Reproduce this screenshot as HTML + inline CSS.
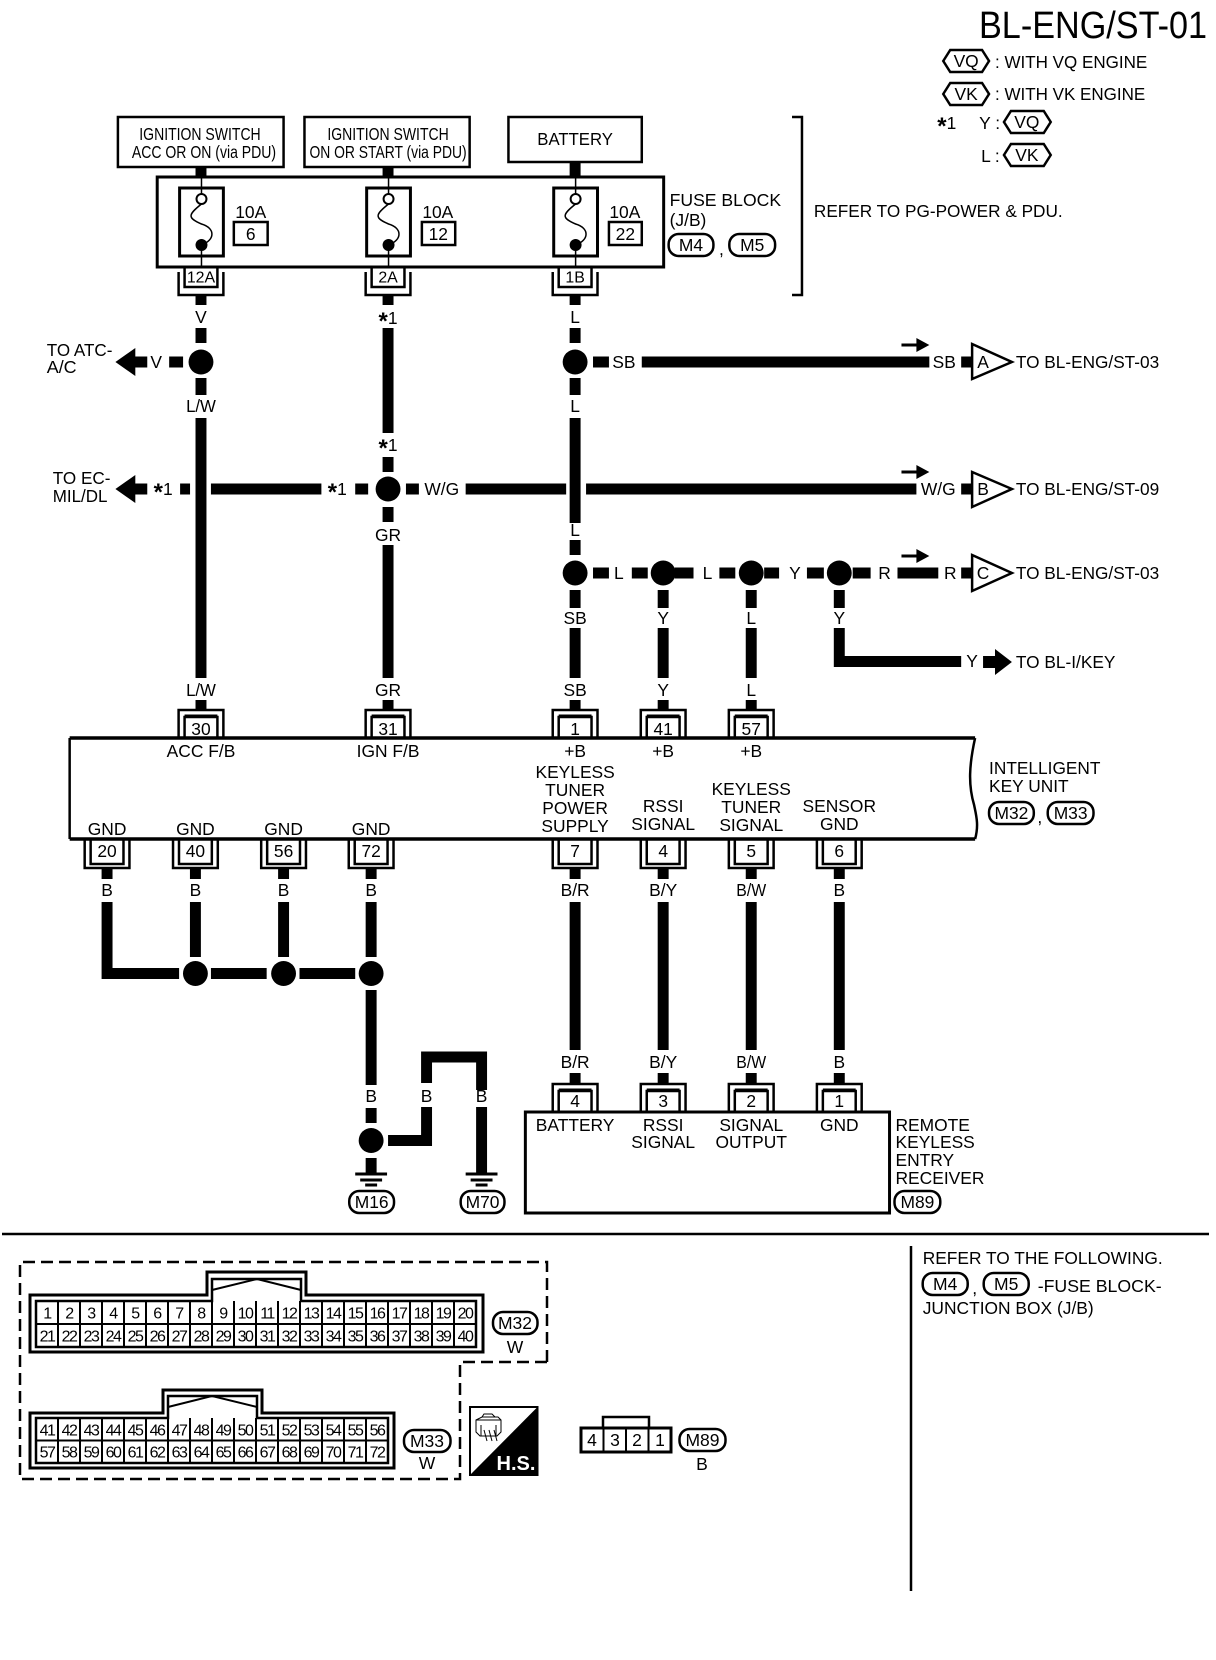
<!DOCTYPE html>
<html><head><meta charset="utf-8"><style>
html,body{margin:0;padding:0;background:#fff;width:1216px;height:1660px;overflow:hidden}
svg{display:block}
text{font-family:"Liberation Sans",sans-serif;font-size:17.5px;fill:#000;text-anchor:middle;dominant-baseline:central}
.l{text-anchor:start}
.c{font-size:16px;letter-spacing:-1.5px;transform:translateY(1px)}
.a{font-weight:bold;font-size:24px}
.w{fill:none;stroke:#000;stroke-width:11}
.t{fill:none;stroke:#000;stroke-width:2.5}
.n{fill:none;stroke:#000;stroke-width:1.5}
.o{fill:#fff;stroke:#000;stroke-width:2.5}
</style></head><body>
<svg width="1216" height="1660" viewBox="0 0 1216 1660" xmlns="http://www.w3.org/2000/svg">
<defs>
<g id="ct"><path class="t" d="M-22.5 28V0H22.5V28"/><path class="t" d="M-16.5 28V7H16.5V28"/><path d="M-16.5 6H16.5" stroke="#000" stroke-width="3"/></g>
<g id="cb"><path class="t" d="M-22.5 0V29H22.5V0"/><path class="t" d="M-16.5 0V25H16.5V0"/></g>
<g id="gn"><path d="M-16 0H16" stroke="#000" stroke-width="3"/><path d="M-11 6H11" stroke="#000" stroke-width="3"/><path d="M-6 11H6" stroke="#000" stroke-width="3"/></g>
<g id="fu"><rect x="-22" y="188" width="44" height="68" fill="#fff" stroke="#000" stroke-width="3"/><path class="n" d="M0 177V194M0 245V267"/><circle cx="0" cy="199" r="5" fill="#fff" stroke="#000" stroke-width="2"/><circle cx="0" cy="245" r="6"/><path class="n" d="M0 204C-14 215-14 218 0 224C14 228 14 240 0 245" stroke-width="2"/></g>
</defs>

<text x="979" y="26" class="l" style="font-size:38px" textLength="228" lengthAdjust="spacingAndGlyphs">BL-ENG/ST-01</text>

<g transform="scale(.995,1)">
<!-- legend -->
<polygon class="o" points="948,61 955,50 987,50 994,61 987,72 955,72"/><text x="971" y="61">VQ</text>
<text x="1000" y="62" class="l" textLength="153" lengthAdjust="spacingAndGlyphs">: WITH VQ ENGINE</text>
<polygon class="o" points="948,94 955,83 987,83 994,94 987,105 955,105"/><text x="971" y="94">VK</text>
<text x="1000" y="94" class="l" textLength="151" lengthAdjust="spacingAndGlyphs">: WITH VK ENGINE</text>
<text x="942" y="123" class="l"><tspan class="a" dy="3">*</tspan><tspan dy="-3">1</tspan></text><text x="984" y="123" class="l">Y :</text>
<polygon class="o" points="1009,122 1016,111 1049,111 1056,122 1049,133 1016,133"/><text x="1032" y="122">VQ</text>
<text x="986" y="156" class="l">L :</text>
<polygon class="o" points="1009,155 1016,144 1049,144 1056,155 1049,166 1016,166"/><text x="1032" y="155">VK</text>

<!-- top boxes -->
<rect x="118.5" y="117" width="166.5" height="50" class="o" stroke-width="3"/>
<text x="201" y="134" textLength="122" lengthAdjust="spacingAndGlyphs">IGNITION SWITCH</text>
<text x="205" y="152" textLength="145" lengthAdjust="spacingAndGlyphs">ACC OR ON (via PDU)</text>
<rect x="306" y="117" width="166" height="50" class="o"/>
<text x="390" y="134" textLength="122" lengthAdjust="spacingAndGlyphs">IGNITION SWITCH</text>
<text x="390" y="152" textLength="158" lengthAdjust="spacingAndGlyphs">ON OR START (via PDU)</text>
<rect x="511" y="117" width="134" height="45" class="o"/>
<text x="578" y="139" textLength="76" lengthAdjust="spacingAndGlyphs">BATTERY</text>

<!-- wires -->
<path class="w" d="M202 167V177M202 295V305M202 328V343M202 378V395M202 418V678M202 700V710
M390 167V177M390 295V305M390 328V433M390 457V472M390 507V522M390 545V678M390 700V710
M578 162V177M578 295V305M578 328V343M578 378V395M578 418V523M578 540V555M578 590V608M578 628V678M578 700V710
M666.5 590V608M666.5 628V678M666.5 700V710
M755 590V608M755 628V678M755 700V710
M843.5 590V608M843.5 628V661.5H966
M170 362H184M596 362H612M645 362H934M966 362H978
M181 489H191M212 489H323M357 489H370M408 489H421M468 489H569M589 489H921M966 489H978
M596 573H612M635 573H651M678 573H697M723 573H739M768 573H783M811 573H828M857 573H875M902 573H943M966 573H978
M107.6 868V879M107.6 902V973.5H180M196.4 868V879M196.4 902V957M285 868V879M285 902V957M373 868V879M373 902V957
M212 973.5H268M301 973.5H357
M373 990V1085M373 1108V1123M373 1158V1173
M390 1140.5H428.7V1107M428.7 1083V1057H484V1090M484 1107V1173
M578 868V879M578 902V1050M578 1073V1084
M666.5 868V879M666.5 902V1050M666.5 1073V1084
M755 868V879M755 902V1050M755 1073V1084
M843.5 868V879M843.5 902V1050M843.5 1073V1084"/>

<!-- fuse block -->
<rect x="158" y="177" width="509" height="90" fill="#fff" stroke="#000" stroke-width="3"/>
<use href="#fu" x="202.5"/><use href="#fu" x="390.5"/><use href="#fu" x="578.5"/>
<text x="252" y="212">10A</text><rect x="235" y="222" width="34" height="23" class="o"/><text x="252" y="234">6</text>
<text x="440" y="212">10A</text><rect x="424" y="222" width="33.5" height="23" class="o"/><text x="440.5" y="234">12</text>
<text x="628" y="212">10A</text><rect x="612" y="222" width="33" height="23" class="o"/><text x="628.5" y="234">22</text>
<g transform="translate(202,267)"><path class="t" d="M-22.5 5V28H22.5V5M-16.5 0V20H16.5V0"/></g>
<g transform="translate(390,267)"><path class="t" d="M-22.5 5V28H22.5V5M-16.5 0V20H16.5V0"/></g>
<g transform="translate(578,267)"><path class="t" d="M-22.5 5V28H22.5V5M-16.5 0V20H16.5V0"/></g>
<text x="202" y="278" style="font-size:16px">12A</text><text x="390" y="278" style="font-size:16px">2A</text><text x="578" y="278" style="font-size:16px">1B</text>
<text x="673" y="200" class="l" textLength="112" lengthAdjust="spacingAndGlyphs">FUSE BLOCK</text>
<text x="673" y="220" class="l">(J/B)</text>
<rect x="672" y="234" width="45" height="22" rx="10" class="o"/><text x="694.5" y="245">M4</text>
<text x="725" y="249">,</text>
<rect x="733" y="234" width="46" height="22" rx="10" class="o"/><text x="756" y="245">M5</text>
<path class="t" d="M796 117H806V295H796"/>
<text x="818" y="211" class="l" textLength="250" lengthAdjust="spacingAndGlyphs">REFER TO PG-POWER &amp; PDU.</text>

<!-- labels upper -->
<text x="202" y="317">V</text><text x="390" y="318"><tspan class="a" dy="3">*</tspan><tspan dy="-3">1</tspan></text><text x="578" y="317">L</text>
<text x="202" y="406" textLength="30" lengthAdjust="spacingAndGlyphs">L/W</text><text x="578" y="406">L</text>
<text x="390" y="445"><tspan class="a" dy="3">*</tspan><tspan dy="-3">1</tspan></text><text x="390" y="535">GR</text><text x="578" y="530">L</text>

<!-- junctions -->
<g>
<circle cx="202" cy="362" r="12.5"/><circle cx="578" cy="362" r="12.5"/><circle cx="390" cy="489" r="12.5"/>
<circle cx="578" cy="573" r="12.5"/><circle cx="666.5" cy="573" r="12.5"/><circle cx="755" cy="573" r="12.5"/><circle cx="843.5" cy="573" r="12.5"/>
<circle cx="196.4" cy="973.5" r="12.5"/><circle cx="285" cy="973.5" r="12.5"/><circle cx="373" cy="973.5" r="12.5"/><circle cx="373" cy="1140.5" r="12.5"/>
</g>

<!-- left arrows -->
<polygon points="116,362 136,348 136,356.5 148,356.5 148,367.5 136,367.5 136,376"/>
<polygon points="116,489 136,475 136,483.5 148,483.5 148,494.5 136,494.5 136,503"/>
<text x="157" y="362">V</text>
<text x="47" y="350" class="l" textLength="66" lengthAdjust="spacingAndGlyphs">TO ATC-</text><text x="47" y="367" class="l" textLength="30" lengthAdjust="spacingAndGlyphs">A/C</text>
<text x="164" y="489"><tspan class="a" dy="3">*</tspan><tspan dy="-3">1</tspan></text>
<text x="53" y="478" class="l" textLength="58" lengthAdjust="spacingAndGlyphs">TO EC-</text><text x="53" y="496" class="l" textLength="55" lengthAdjust="spacingAndGlyphs">MIL/DL</text>
<text x="339" y="489"><tspan class="a" dy="3">*</tspan><tspan dy="-3">1</tspan></text>
<text x="444" y="489">W/G</text>

<!-- horizontal labels -->
<text x="627" y="362">SB</text><text x="949" y="362">SB</text>
<text x="943" y="489">W/G</text>
<text x="622" y="573">L</text><text x="711" y="573">L</text><text x="799" y="573">Y</text><text x="889" y="573">R</text><text x="955" y="573">R</text>

<!-- small direction arrows -->
<path d="M906 345H923" stroke="#000" stroke-width="3"/><polygon points="934,345 921,338 921,352"/>
<path d="M906 472H923" stroke="#000" stroke-width="3"/><polygon points="934,472 921,465 921,479"/>
<path d="M906 556H923" stroke="#000" stroke-width="3"/><polygon points="934,556 921,549 921,563"/>

<!-- triangles -->
<polygon class="o" points="977,344 1017,362 977,379"/><text x="988" y="362">A</text>
<polygon class="o" points="977,472 1017,489 977,507"/><text x="988" y="489">B</text>
<polygon class="o" points="977,555 1017,573 977,591"/><text x="988" y="573">C</text>
<text x="1021" y="362" class="l" textLength="144" lengthAdjust="spacingAndGlyphs">TO BL-ENG/ST-03</text>
<text x="1021" y="489" class="l" textLength="144" lengthAdjust="spacingAndGlyphs">TO BL-ENG/ST-09</text>
<text x="1021" y="573" class="l" textLength="144" lengthAdjust="spacingAndGlyphs">TO BL-ENG/ST-03</text>

<!-- Y branch -->
<text x="977" y="661">Y</text>
<polygon points="988,656 1000,656 1000,649 1017,662 1000,675 1000,668 988,668"/>
<text x="1021" y="662" class="l" textLength="100" lengthAdjust="spacingAndGlyphs">TO BL-I/KEY</text>

<!-- wire labels above IKU -->
<text x="843.5" y="618">Y</text><text x="578" y="618">SB</text><text x="666.5" y="618">Y</text><text x="755" y="618">L</text>
<text x="202" y="690" textLength="30" lengthAdjust="spacingAndGlyphs">L/W</text><text x="390" y="690">GR</text><text x="578" y="690">SB</text><text x="666.5" y="690">Y</text><text x="755" y="690">L</text>

<!-- Intelligent key unit -->
<path d="M70 738H980C974 765 973 785 979 805C981 815 984 825 980 839H70Z" fill="#fff" stroke="none"/>
<path d="M70 738H980M70 839H980" stroke="#000" stroke-width="3.5"/>
<path class="t" d="M70 738V839M980 738C974 765 973 785 979 805C981 815 984 825 980 839"/>
<use href="#ct" x="202" y="710"/><use href="#ct" x="390" y="710"/><use href="#ct" x="578" y="710"/><use href="#ct" x="666.5" y="710"/><use href="#ct" x="755" y="710"/>
<text x="202" y="729">30</text><text x="390" y="729">31</text><text x="578" y="729">1</text><text x="666.5" y="729">41</text><text x="755" y="729">57</text>
<text x="202" y="751">ACC F/B</text><text x="390" y="751">IGN F/B</text><text x="578" y="751">+B</text><text x="666.5" y="751">+B</text><text x="755" y="751">+B</text>
<text x="578" y="772">KEYLESS</text><text x="578" y="790">TUNER</text><text x="578" y="808">POWER</text><text x="578" y="826">SUPPLY</text>
<text x="666.5" y="806">RSSI</text><text x="666.5" y="824">SIGNAL</text>
<text x="755" y="789">KEYLESS</text><text x="755" y="807">TUNER</text><text x="755" y="825">SIGNAL</text>
<text x="843.5" y="806">SENSOR</text><text x="843.5" y="824">GND</text>
<text x="107.6" y="829">GND</text><text x="196.4" y="829">GND</text><text x="285" y="829">GND</text><text x="373" y="829">GND</text>
<text x="994" y="768" class="l" textLength="112" lengthAdjust="spacingAndGlyphs">INTELLIGENT</text>
<text x="994" y="786" class="l" textLength="80" lengthAdjust="spacingAndGlyphs">KEY UNIT</text>
<rect x="994" y="802" width="45" height="22" rx="10" class="o"/><text x="1016.5" y="813">M32</text><text x="1045" y="817">,</text>
<rect x="1053" y="802" width="46" height="22" rx="10" class="o"/><text x="1076" y="813">M33</text>

<!-- bottom connectors -->
<use href="#cb" x="107.6" y="839"/><use href="#cb" x="196.4" y="839"/><use href="#cb" x="285" y="839"/><use href="#cb" x="373" y="839"/><use href="#cb" x="578" y="839"/><use href="#cb" x="666.5" y="839"/><use href="#cb" x="755" y="839"/><use href="#cb" x="843.5" y="839"/>
<text x="107.6" y="851">20</text><text x="196.4" y="851">40</text><text x="285" y="851">56</text><text x="373" y="851">72</text><text x="578" y="851">7</text><text x="666.5" y="851">4</text><text x="755" y="851">5</text><text x="843.5" y="851">6</text>
<text x="107.6" y="890">B</text><text x="196.4" y="890">B</text><text x="285" y="890">B</text><text x="373" y="890">B</text>
<text x="578" y="890">B/R</text><text x="666.5" y="890">B/Y</text><text x="755" y="890" textLength="30" lengthAdjust="spacingAndGlyphs">B/W</text><text x="843.5" y="890">B</text>
<text x="578" y="1062">B/R</text><text x="666.5" y="1062">B/Y</text><text x="755" y="1062" textLength="30" lengthAdjust="spacingAndGlyphs">B/W</text><text x="843.5" y="1062">B</text>
<text x="373" y="1096">B</text><text x="428.7" y="1096">B</text><text x="484" y="1096">B</text>

<!-- grounds -->
<use href="#gn" x="373" y="1174"/><use href="#gn" x="484" y="1174"/>
<rect x="351" y="1191" width="45" height="22" rx="10" class="o"/><text x="373.5" y="1202">M16</text>
<rect x="463" y="1191" width="44" height="22" rx="10" class="o"/><text x="485" y="1202">M70</text>

<!-- receiver -->
<rect x="528" y="1112" width="366" height="101" fill="#fff" stroke="#000" stroke-width="3"/>
<use href="#ct" x="578" y="1084"/><use href="#ct" x="666.5" y="1084"/><use href="#ct" x="755" y="1084"/><use href="#ct" x="843.5" y="1084"/>
<text x="578" y="1101">4</text><text x="666.5" y="1101">3</text><text x="755" y="1101">2</text><text x="843.5" y="1101">1</text>
<text x="578" y="1125">BATTERY</text><text x="666.5" y="1125">RSSI</text><text x="666.5" y="1142">SIGNAL</text><text x="755" y="1125">SIGNAL</text><text x="755" y="1142">OUTPUT</text><text x="843.5" y="1125">GND</text>
<text x="900" y="1125" class="l">REMOTE</text><text x="900" y="1142" class="l">KEYLESS</text><text x="900" y="1160" class="l">ENTRY</text><text x="900" y="1178" class="l">RECEIVER</text>
<rect x="899" y="1191" width="46" height="22" rx="10" class="o"/><text x="922" y="1202">M89</text>
</g>

<!-- separator -->
<path d="M2 1231.5H1206" stroke="none"/>
<path d="M2 1234H1209" stroke="#000" stroke-width="2.5"/>
<path d="M911 1246V1591" stroke="#000" stroke-width="2.5"/>
<g transform="translate(-5.3,0)">
<text x="928" y="1258" class="l" textLength="240" lengthAdjust="spacingAndGlyphs">REFER TO THE FOLLOWING.</text>
<rect x="928" y="1273" width="45" height="22" rx="10" class="o"/><text x="950.5" y="1284">M4</text><text x="980" y="1288">,</text>
<rect x="989" y="1273" width="45" height="22" rx="10" class="o"/><text x="1011.5" y="1284">M5</text>
<text x="1043" y="1286" class="l" textLength="124" lengthAdjust="spacingAndGlyphs">-FUSE BLOCK-</text>
<text x="928" y="1308" class="l" textLength="171" lengthAdjust="spacingAndGlyphs">JUNCTION BOX (J/B)</text>
</g>

<!-- dashed frame -->
<path d="M547 1362V1262H20V1479H460V1362H547" fill="none" stroke="#000" stroke-width="2.5" stroke-dasharray="12 6"/>

<!-- M32 -->
<path d="M30 1295H207V1272H306V1295H483V1352H30Z" fill="none" stroke="#000" stroke-width="3"/>
<path d="M36 1301H212V1279H301V1301H476V1347H36Z" fill="none" stroke="#000" stroke-width="2.5"/>
<path d="M212 1290L257 1279L301 1290" fill="none" stroke="#000" stroke-width="2"/>
<path d="M36 1324H476M58 1301V1347M80 1301V1347M102 1301V1347M124 1301V1347M146 1301V1347M168 1301V1347M190 1301V1347M212 1301V1347M234 1301V1347M256 1301V1347M278 1301V1347M300 1301V1347M322 1301V1347M344 1301V1347M366 1301V1347M388 1301V1347M410 1301V1347M432 1301V1347M454 1301V1347" stroke="#000" stroke-width="2" fill="none"/>
<g>
<text class="c" x="47" y="1313">1</text><text class="c" x="69" y="1313">2</text><text class="c" x="91" y="1313">3</text><text class="c" x="113" y="1313">4</text><text class="c" x="135" y="1313">5</text><text class="c" x="157" y="1313">6</text><text class="c" x="179" y="1313">7</text><text class="c" x="201" y="1313">8</text><text class="c" x="223" y="1313">9</text><text class="c" x="245" y="1313">10</text><text class="c" x="267" y="1313">11</text><text class="c" x="289" y="1313">12</text><text class="c" x="311" y="1313">13</text><text class="c" x="333" y="1313">14</text><text class="c" x="355" y="1313">15</text><text class="c" x="377" y="1313">16</text><text class="c" x="399" y="1313">17</text><text class="c" x="421" y="1313">18</text><text class="c" x="443" y="1313">19</text><text class="c" x="465" y="1313">20</text>
<text class="c" x="47" y="1336">21</text><text class="c" x="69" y="1336">22</text><text class="c" x="91" y="1336">23</text><text class="c" x="113" y="1336">24</text><text class="c" x="135" y="1336">25</text><text class="c" x="157" y="1336">26</text><text class="c" x="179" y="1336">27</text><text class="c" x="201" y="1336">28</text><text class="c" x="223" y="1336">29</text><text class="c" x="245" y="1336">30</text><text class="c" x="267" y="1336">31</text><text class="c" x="289" y="1336">32</text><text class="c" x="311" y="1336">33</text><text class="c" x="333" y="1336">34</text><text class="c" x="355" y="1336">35</text><text class="c" x="377" y="1336">36</text><text class="c" x="399" y="1336">37</text><text class="c" x="421" y="1336">38</text><text class="c" x="443" y="1336">39</text><text class="c" x="465" y="1336">40</text>
</g>
<rect x="493" y="1312" width="44.5" height="22" rx="10" class="o"/><text x="515" y="1323">M32</text><text x="515" y="1347">W</text>

<!-- M33 -->
<path d="M30 1413H163V1390H262V1413H394V1468H30Z" fill="none" stroke="#000" stroke-width="3"/>
<path d="M36 1418H168V1396H257V1418H388V1463H36Z" fill="none" stroke="#000" stroke-width="2.5"/>
<path d="M168 1407L212 1396L257 1407" fill="none" stroke="#000" stroke-width="2"/>
<path d="M36 1440.5H388M58 1418V1463M80 1418V1463M102 1418V1463M124 1418V1463M146 1418V1463M168 1418V1463M190 1418V1463M212 1418V1463M234 1418V1463M256 1418V1463M278 1418V1463M300 1418V1463M322 1418V1463M344 1418V1463M366 1418V1463" stroke="#000" stroke-width="2" fill="none"/>
<text class="c" x="47" y="1430">41</text><text class="c" x="69" y="1430">42</text><text class="c" x="91" y="1430">43</text><text class="c" x="113" y="1430">44</text><text class="c" x="135" y="1430">45</text><text class="c" x="157" y="1430">46</text><text class="c" x="179" y="1430">47</text><text class="c" x="201" y="1430">48</text><text class="c" x="223" y="1430">49</text><text class="c" x="245" y="1430">50</text><text class="c" x="267" y="1430">51</text><text class="c" x="289" y="1430">52</text><text class="c" x="311" y="1430">53</text><text class="c" x="333" y="1430">54</text><text class="c" x="355" y="1430">55</text><text class="c" x="377" y="1430">56</text>
<text class="c" x="47" y="1452">57</text><text class="c" x="69" y="1452">58</text><text class="c" x="91" y="1452">59</text><text class="c" x="113" y="1452">60</text><text class="c" x="135" y="1452">61</text><text class="c" x="157" y="1452">62</text><text class="c" x="179" y="1452">63</text><text class="c" x="201" y="1452">64</text><text class="c" x="223" y="1452">65</text><text class="c" x="245" y="1452">66</text><text class="c" x="267" y="1452">67</text><text class="c" x="289" y="1452">68</text><text class="c" x="311" y="1452">69</text><text class="c" x="333" y="1452">70</text><text class="c" x="355" y="1452">71</text><text class="c" x="377" y="1452">72</text>
<rect x="404" y="1430" width="46.5" height="22" rx="10" class="o"/><text x="427" y="1441">M33</text><text x="427" y="1463">W</text>

<!-- H.S. -->
<rect x="470" y="1407" width="67.5" height="68" fill="#fff" stroke="#000" stroke-width="2"/>
<polygon points="537.5,1407 537.5,1475 470,1475"/>
<path d="M476 1420L482 1417H498L501 1420V1432L497 1436H480L476 1432ZM476 1420H501M482 1417L484 1414H492L495 1417M481 1425V1436M496 1425V1436M484 1430L487 1441M489 1430L492 1441M494 1430L497 1441" fill="none" stroke="#000" stroke-width="1"/>
<text x="516" y="1464" style="fill:#fff;font-weight:bold;font-size:20px">H.S.</text>

<!-- M89 connector -->
<path d="M603 1428V1417H649V1428" fill="none" stroke="#000" stroke-width="2.5"/>
<rect x="581" y="1428" width="90" height="24" fill="#fff" stroke="#000" stroke-width="3"/>
<path d="M603.5 1428V1452M626 1428V1452M648.5 1428V1452" stroke="#000" stroke-width="2"/>
<text x="592" y="1440">4</text><text x="615" y="1440">3</text><text x="637" y="1440">2</text><text x="660" y="1440">1</text>
<rect x="679.5" y="1429" width="46" height="22" rx="10" class="o"/><text x="702.5" y="1440">M89</text><text x="702" y="1464">B</text>
</svg>
</body></html>
